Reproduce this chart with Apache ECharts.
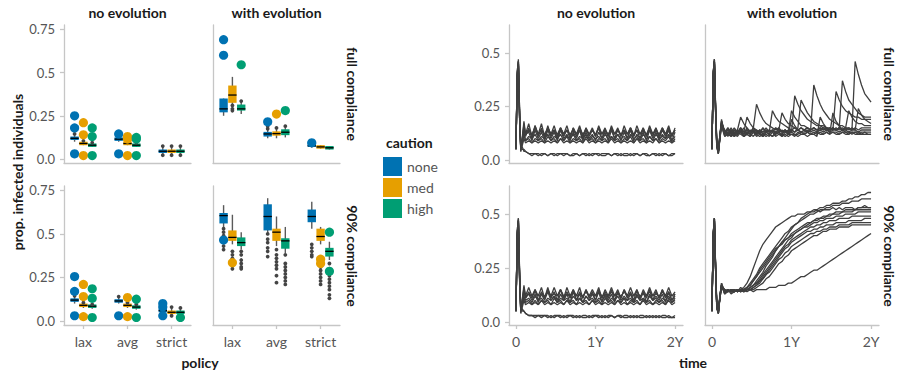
<!DOCTYPE html>
<html>
<head>
<meta charset="utf-8">
<script src="https://cdn.jsdelivr.net/npm/echarts@6/dist/echarts.min.js"></script>
<style>
  html, body { margin: 0; padding: 0; background: #fff; }
  #chart { width: 902px; height: 374px; }
</style>
</head>
<body>
<div id="chart"></div>
<script>
const FONT = 'Lato';
const POLICIES = ['lax', 'avg', 'strict'];
const CAUTION = ['none', 'med', 'high'];
const COLORS = ['#0072B2', '#E69F00', '#009E73'];

/* ── left facets: box stats [min, q1, median, q3, max] per caution → per policy ── */
const BOX_NOEVO_FULL = [
  [[0.10, 0.11, 0.12, 0.125, 0.14], [0.10, 0.108, 0.115, 0.12, 0.14], [0.03, 0.04, 0.045, 0.05, 0.07]],
  [[0.08, 0.085, 0.09, 0.095, 0.11], [0.08, 0.085, 0.09, 0.097, 0.11], [0.03, 0.04, 0.045, 0.05, 0.07]],
  [[0.07, 0.075, 0.08, 0.09, 0.10], [0.07, 0.075, 0.08, 0.085, 0.10], [0.03, 0.04, 0.045, 0.05, 0.07]]
];
const BOX_EVO_FULL = [
  [[0.25, 0.27, 0.29, 0.35, 0.35], [0.12, 0.13, 0.145, 0.157, 0.185], [0.065, 0.07, 0.077, 0.10, 0.10]],
  [[0.27, 0.325, 0.37, 0.425, 0.475], [0.12, 0.135, 0.147, 0.16, 0.175], [0.06, 0.065, 0.07, 0.075, 0.08]],
  [[0.26, 0.28, 0.29, 0.315, 0.33], [0.125, 0.138, 0.155, 0.172, 0.18], [0.055, 0.06, 0.065, 0.07, 0.075]]
];
const BOX_NOEVO_90 = [
  [[0.10, 0.11, 0.12, 0.13, 0.145], [0.10, 0.11, 0.115, 0.12, 0.135], [0.04, 0.05, 0.06, 0.065, 0.08]],
  [[0.075, 0.085, 0.09, 0.095, 0.11], [0.075, 0.085, 0.09, 0.095, 0.11], [0.03, 0.045, 0.05, 0.055, 0.08]],
  [[0.07, 0.075, 0.085, 0.09, 0.10], [0.065, 0.075, 0.08, 0.085, 0.10], [0.03, 0.04, 0.05, 0.055, 0.075]]
];
const BOX_EVO_90 = [
  [[0.52, 0.56, 0.605, 0.62, 0.665], [0.50, 0.52, 0.60, 0.67, 0.705], [0.53, 0.567, 0.60, 0.64, 0.685]],
  [[0.44, 0.46, 0.48, 0.52, 0.61], [0.43, 0.46, 0.51, 0.53, 0.60], [0.44, 0.46, 0.485, 0.53, 0.54]],
  [[0.41, 0.43, 0.45, 0.48, 0.51], [0.39, 0.415, 0.46, 0.475, 0.54], [0.35, 0.37, 0.40, 0.42, 0.455]]
];

// small grey outliers
const OUT_NOEVO_FULL = [
  [[0.145], [0.135], [0.075, 0.022]],
  [[0.105], [0.105], [0.075, 0.022]],
  [[0.095], [0.095], [0.075, 0.022]]
];
const OUT_EVO_FULL = [
  [[], [0.19, 0.175], []],
  [[0.31, 0.29, 0.28], [0.18], []],
  [[0.335], [0.19], []]
];
const OUT_NOEVO_90 = [
  [[0.145], [0.14], []],
  [[0.105], [0.105], [0.08, 0.03]],
  [[0.095], [0.095], [0.075, 0.03]]
];
const OUT_EVO_90 = [
  [[0.53, 0.51, 0.49, 0.45, 0.43, 0.41], [0.50, 0.47, 0.45, 0.42, 0.40, 0.37], [0.44, 0.42, 0.40, 0.38, 0.37]],
  [[0.40, 0.38, 0.36, 0.32, 0.30], [0.41, 0.38, 0.36, 0.34, 0.32, 0.30, 0.26, 0.22], [0.31, 0.29, 0.27, 0.25, 0.23, 0.21]],
  [[0.40, 0.38, 0.35, 0.33, 0.31, 0.30], [0.38, 0.33, 0.31, 0.29, 0.27, 0.25, 0.23, 0.21], [0.33, 0.30, 0.26, 0.24, 0.22, 0.20, 0.18, 0.15, 0.13]]
];

// big coloured points
const DOTS_NOEVO_FULL = [
  [[0.25, 0.18, 0.03], [0.145, 0.03], []],
  [[0.21, 0.14, 0.02], [0.13, 0.115, 0.02], []],
  [[0.18, 0.13, 0.02], [0.125, 0.115, 0.02], []]
];
const DOTS_EVO_FULL = [
  [[0.69, 0.60], [0.215], [0.094]],
  [[], [0.26], []],
  [[0.545], [0.28], []]
];
const DOTS_NOEVO_90 = [
  [[0.255, 0.17, 0.03], [0.03], [0.10, 0.08, 0.03]],
  [[0.21, 0.14, 0.025], [0.135, 0.025], []],
  [[0.185, 0.13, 0.02], [0.125, 0.02], [0.02]]
];
const DOTS_EVO_90 = [
  [[0.465], [], []],
  [[0.335], [], [0.355, 0.33]],
  [[], [], [0.51, 0.285]]
];

/* ── right facets: time (years) and trajectories in % infected ── */
const T = [0, 0.015, 0.03, 0.045, 0.06, 0.08, 0.1, 0.12,
  0.16, 0.2, 0.24, 0.28, 0.32, 0.36, 0.4, 0.44, 0.48, 0.52, 0.56, 0.6,
  0.64, 0.68, 0.72, 0.76, 0.8, 0.84, 0.88, 0.92, 0.96, 1.0, 1.04, 1.08,
  1.12, 1.16, 1.2, 1.24, 1.28, 1.32, 1.36, 1.4, 1.44, 1.48, 1.52, 1.56,
  1.6, 1.64, 1.68, 1.72, 1.76, 1.8, 1.84, 1.88, 1.92, 1.96, 2.0];

const LINES_NOEVO_FULL = [
  [5,41,46,20,4,10,17,11,15,10,16, 11,15,10,16,11,14,10,15,11,14,10, 15,11,14,10,15,11,14,11,15,10,14, 11,15,10,14,11,14,10,15,11,14,10, 15,11,14,11,15,10,14,11,15,11,14],
  [5,39,45,24,5,8,14,12,13,9,14, 10,13,9,14,10,13,9,14,10,12,9, 13,10,14,9,13,10,12,9,13,10,13, 9,14,10,12,9,13,10,14,9,12,10, 13,9,14,10,13,9,12,10,14,9,13],
  [6,38,46,21,5,9,13,9,11,10,12, 9,11,10,12,9,11,10,12,9,11,10, 12,9,11,10,12,9,11,10,11,9,12, 10,11,9,12,10,11,9,12,10,11,9, 12,10,11,9,12,10,11,10,12,9,11],
  [5,40,45,22,6,8,12,9,10,8,10, 9,10,8,11,9,10,8,10,9,11,8, 10,9,10,8,11,9,10,8,10,9,10, 8,11,9,10,8,10,9,11,8,10,9, 10,8,11,9,10,8,10,9,11,8,10],
  [5,41,47,23,4,11,18,12,17,11,16, 12,17,11,15,12,16,11,15,12,16,11, 15,12,16,11,15,12,15,11,16,12,15, 11,16,12,15,11,16,12,15,11,16,12, 15,11,16,12,15,11,15,12,16,11,15],
  [6,38,44,20,5,7,10,8,9,8,9, 8,9,8,9,8,9,8,10,8,9,8, 9,8,9,8,10,8,9,8,9,8,9, 8,10,8,9,8,9,8,9,8,10,8, 9,8,9,8,10,8,9,8,9,8,9],
  [5,40,46,21,5,10,16,12,14,12,15, 12,14,12,15,12,14,12,15,12,14,12, 14,12,15,12,14,12,14,12,15,12,14, 12,15,12,14,12,14,12,15,12,14,12, 14,12,15,12,14,12,15,12,14,12,14],
  [5,38,45,20,6,5,5,4,3,3,3, 2,3,3,2,3,3,2,3,3,3,2, 3,3,2,3,3,2,3,3,2,3,3, 3,2,3,3,2,3,3,2,3,3,2, 3,3,2,3,3,2,3,3,2,3,3],
  [6,37,44,19,7,6,4,4,3,2,3, 3,2,3,2,3,2,3,3,2,3,2, 2,3,2,3,2,3,2,3,3,2,2, 3,2,3,2,3,2,2,3,2,3,2, 3,2,2,3,2,3,2,3,2,2,3]
];

const LINES_EVO_FULL = [
  [5,40,47,24,7,3,11,18,13,15,12, 14,12,15,13,14,12,15,26,22,19,17, 16,15,14,15,13,14,13,14,13,14,13, 14,13,14,35,30,26,23,21,19,18,17, 16,16,15,15,14,46,40,35,31,29,27],
  [6,39,46,26,9,4,10,17,14,12,15, 12,14,13,15,12,14,13,14,12,15,13, 14,13,15,13,14,13,14,13,30,26,23, 21,19,18,17,16,16,15,15,14,15,14, 15,37,32,28,26,24,22,21,20,20,20],
  [5,41,47,23,6,3,12,19,12,14,13, 15,13,14,12,15,13,14,12,14,13,15, 13,14,12,15,13,14,12,14,13,15,28, 25,22,20,18,17,16,16,15,15,14,32, 28,25,23,22,21,20,20,19,19,19,19],
  [5,40,46,25,8,4,11,17,13,14,12, 14,13,15,12,14,13,15,13,14,12,14, 13,23,20,18,17,16,15,14,15,14,15, 14,15,14,15,14,15,14,15,14,15,14, 15,14,15,14,15,14,24,21,19,18,17],
  [6,38,45,24,7,4,12,18,12,15,13, 14,12,15,13,20,17,15,14,13,15,13, 14,13,15,14,13,14,13,23,20,18,16, 16,15,14,15,14,15,14,15,14,15,14, 15,14,15,23,20,18,17,17,16,16,16],
  [5,40,47,23,7,3,11,18,13,12,14, 12,14,20,17,15,13,14,12,14,13,14, 13,14,13,14,22,19,17,16,15,14,15, 14,15,14,15,14,14,15,14,15,14,15, 14,15,14,15,14,15,14,15,15,15,15],
  [5,41,46,24,8,4,12,17,12,13,11, 13,12,14,11,13,12,14,12,13,11,13, 12,14,12,13,12,14,12,19,16,14,13, 13,14,13,14,13,14,13,14,13,14,14, 13,14,14,13,14,14,13,14,14,14,14],
  [6,39,46,22,6,3,10,16,11,12,11, 12,11,13,11,12,11,13,11,12,11,12, 11,13,11,12,12,11,12,13,12,12,13, 12,13,12,13,12,13,12,13,12,13,13, 12,13,13,12,13,13,12,13,13,13,13],
  [5,40,46,25,9,4,10,17,13,11,13, 11,13,12,11,13,12,11,13,12,11,13, 12,11,13,12,11,13,12,12,11,13,12, 12,13,12,12,13,12,12,13,12,22,18, 16,14,13,13,12,13,13,12,13,12,12],
  [6,38,45,23,7,4,12,16,11,13,12, 11,12,13,11,12,11,13,12,11,12,11, 12,11,12,13,11,12,11,12,12,11,12, 12,11,12,12,11,20,17,15,13,13,12, 12,13,12,12,13,12,12,12,12,12,12]
];

const LINES_NOEVO_90 = [
  [5,42,48,22,4,10,16,11,14,11,15, 10,14,11,16,11,14,10,15,11,14,11, 15,10,14,11,15,11,14,10,15,11,14, 11,15,10,14,11,15,11,14,10,15,11, 14,11,15,10,14,11,15,11,14,10,13],
  [5,40,47,24,5,9,14,11,13,10,13, 9,13,10,14,10,12,9,13,10,13,9, 14,10,13,9,12,10,13,10,14,9,13, 10,13,9,14,10,12,10,13,9,13,10, 14,9,13,10,12,10,13,9,14,10,12],
  [6,39,47,21,5,9,12,10,11,9,12, 10,11,9,11,10,12,9,11,10,11,9, 12,10,11,9,12,10,11,9,11,10,12, 9,11,10,12,9,11,10,11,9,12,10, 11,9,12,10,11,9,11,10,12,9,11],
  [5,41,46,22,6,8,11,9,10,8,10, 8,10,9,10,8,11,9,10,8,10,9, 10,8,11,9,10,8,10,9,10,8,11, 9,10,8,10,9,11,8,10,9,10,8, 11,9,10,8,10,9,10,8,11,9,10],
  [5,42,48,23,4,11,17,12,16,12,15, 12,16,11,15,12,16,12,15,11,16,12, 15,12,16,11,15,12,15,12,16,11,15, 12,16,12,15,11,15,12,16,12,15,11, 15,12,16,12,15,11,15,12,16,12,14],
  [6,39,45,20,5,7,10,8,9,8,9, 8,10,8,9,8,9,8,9,8,10,8, 9,8,9,8,9,8,10,8,9,8,9, 8,9,8,10,8,9,8,9,8,9,8, 10,8,9,8,9,8,9,8,10,8,9],
  [5,41,47,21,5,10,15,12,13,12,14, 12,13,12,14,12,13,12,15,12,13,12, 14,12,13,12,14,12,13,12,14,12,13, 12,14,12,13,12,14,12,13,12,14,12, 13,12,14,12,13,12,14,12,13,12,13],
  [5,40,47,20,8,5,5,4,3,3,3, 3,2,3,3,2,3,3,3,2,3,3, 2,3,2,3,3,2,3,3,2,3,2, 3,3,2,3,2,3,3,2,3,2,3, 3,2,3,2,3,2,3,3,2,2,3],
  [6,38,46,19,7,6,5,4,3,3,2, 3,3,3,2,3,2,3,2,3,2,3, 3,2,3,2,2,3,2,3,3,2,3, 2,3,2,3,3,2,2,3,2,3,2, 2,3,2,3,2,3,2,2,3,2,2]
];

const LINES_EVO_90 = [
  [5,41,48,25,7,4,13,17,14,15,14, 15,14,15,16,18,21,25,29,33,36,38, 40,42,44,45,46,47,48,49,49,50,50, 50,51,51,51,52,51,52,52,52,53,52, 53,52,53,53,53,52,53,53,54,53,53],
  [6,39,47,27,9,5,11,16,15,14,15, 14,15,14,15,15,16,17,19,21,23,26, 28,30,33,35,37,39,41,43,45,46,48, 49,50,51,52,52,53,53,54,54,55,55, 55,56,56,57,57,58,58,59,59,60,60],
  [5,40,48,24,6,4,12,18,13,15,14, 15,14,16,15,16,18,20,22,25,27,29, 31,33,35,37,39,41,42,44,45,46,47, 48,49,50,50,51,52,52,53,53,54,54, 54,55,55,55,56,56,56,57,57,57,57],
  [6,40,47,26,8,5,11,16,14,15,13, 14,15,14,15,16,17,19,21,23,25,27, 29,31,33,35,36,38,39,41,42,43,44, 45,46,46,47,48,48,49,49,50,50,51, 51,51,52,52,52,52,53,53,53,53,53],
  [5,41,48,25,7,4,12,17,15,14,15, 14,15,15,14,15,16,17,18,20,22,24, 26,28,30,32,34,36,38,39,41,42,43, 44,45,46,47,47,48,48,49,49,50,50, 50,51,51,51,51,52,52,52,52,52,52],
  [6,39,47,24,8,5,12,18,14,15,14, 15,14,15,15,16,17,19,21,24,26,28, 30,32,34,35,37,38,39,40,41,42,43, 44,44,45,46,46,47,47,48,48,48,49, 49,49,50,50,50,50,51,51,51,51,51],
  [5,40,48,26,7,4,11,17,13,15,14, 14,15,14,15,15,16,17,18,19,21,23, 25,27,29,31,33,35,36,38,39,40,41, 42,43,44,44,45,45,46,46,47,47,47, 48,48,48,48,49,49,49,49,49,49,49],
  [6,41,47,25,8,5,12,16,15,14,15, 15,14,15,14,15,15,16,17,18,20,22, 24,26,28,30,32,34,35,37,38,39,40, 41,42,42,43,43,44,44,45,45,45,46, 46,46,46,47,47,47,47,47,48,48,48],
  [5,39,48,24,7,4,12,17,14,15,14, 14,15,15,14,15,15,16,17,19,20,22, 23,25,27,29,30,32,33,35,36,37,38, 39,40,41,41,42,42,43,43,44,44,44, 45,45,45,45,46,46,46,46,46,46,46],
  [6,40,47,26,8,5,11,17,13,14,15, 14,15,14,15,14,15,15,16,17,18,20, 21,23,25,27,28,30,31,33,34,35,36, 37,38,39,40,40,41,42,42,43,43,43, 44,44,44,44,45,45,45,45,45,45,45],
  [5,40,48,25,7,4,12,17,14,15,14, 15,14,15,14,15,15,14,15,15,15,15, 16,16,16,17,17,17,18,18,19,20,21, 21,22,23,24,24,25,26,27,28,29,30, 31,32,33,34,35,36,37,38,39,40,41]
];

/* ── layout ── */
const AXIS_COLOR = '#c6c6c6';
const LABEL_COLOR = '#555';
const DODGE = [-0.2, 0, 0.2];
const BOX_W = 0.19;
const MIN_BOX_H = 3.5;

const grids = [
  { left: 64, top: 25, width: 127, height: 138 },
  { left: 213, top: 25, width: 127, height: 138 },
  { left: 64, top: 186, width: 127, height: 139 },
  { left: 213, top: 186, width: 127, height: 139 },
  { left: 509, top: 25, width: 174, height: 138 },
  { left: 705, top: 25, width: 174, height: 138 },
  { left: 509, top: 186, width: 174, height: 139 },
  { left: 705, top: 186, width: 174, height: 139 }
];

function xAxisFor(gi) {
  const isBox = gi < 4;
  const bottom = gi === 2 || gi === 3 || gi === 6 || gi === 7;
  const vals = [0, 1, 2];
  return {
    type: 'value', gridIndex: gi,
    min: isBox ? -0.44 : -0.088, max: isBox ? 2.44 : 2.1,
    axisLine: { show: true, onZero: false, lineStyle: { color: AXIS_COLOR, width: 1.3 } },
    axisTick: { show: bottom, length: 4, customValues: vals, lineStyle: { color: AXIS_COLOR, width: 1.3 } },
    axisLabel: {
      show: bottom, customValues: vals, margin: 9,
      color: LABEL_COLOR, fontSize: 14, fontFamily: FONT,
      formatter: (v) => isBox ? POLICIES[v] : (v === 0 ? '0' : v + 'Y')
    },
    splitLine: { show: false }
  };
}

function yAxisFor(gi) {
  const isBox = gi < 4;
  const leftCol = gi === 0 || gi === 2 || gi === 4 || gi === 6;
  const vals = isBox ? [0, 0.25, 0.5, 0.75] : [0, 0.25, 0.5];
  return {
    type: 'value', gridIndex: gi,
    min: isBox ? -0.023 : -0.014, max: isBox ? 0.775 : 0.63,
    axisLine: { show: true, onZero: false, lineStyle: { color: AXIS_COLOR, width: 1.3 } },
    axisTick: { show: leftCol, length: 4, customValues: vals, lineStyle: { color: AXIS_COLOR, width: 1.3 } },
    axisLabel: {
      show: leftCol, customValues: vals, margin: 9,
      color: LABEL_COLOR, fontSize: 13, fontFamily: FONT,
      formatter: (v) => (v === 0 ? '0.0' : String(v))
    },
    splitLine: { show: false }
  };
}

function boxRender(k) {
  return function (params, api) {
    const x = api.value(0) + DODGE[k];
    const lo = api.coord([x, api.value(1)]);
    const q1 = api.coord([x, api.value(2)]);
    const md = api.coord([x, api.value(3)]);
    const q3 = api.coord([x, api.value(4)]);
    const hi = api.coord([x, api.value(5)]);
    const w = api.size([BOX_W, 0])[0];
    const thin = q1[1] - q3[1] < MIN_BOX_H;
    const h = thin ? MIN_BOX_H : q1[1] - q3[1];
    const top = thin ? md[1] - MIN_BOX_H / 2 : q3[1];
    return {
      type: 'group',
      children: [
        { type: 'line', shape: { x1: lo[0], y1: lo[1], x2: hi[0], y2: hi[1] }, style: { stroke: '#5a5a5a', lineWidth: 1.4 } },
        { type: 'rect', shape: { x: md[0] - w / 2, y: top, width: w, height: h }, style: { fill: COLORS[k] } },
        { type: 'line', shape: { x1: md[0] - w / 2, y1: md[1], x2: md[0] + w / 2, y2: md[1] }, style: { stroke: '#000', lineWidth: 1.3 } }
      ]
    };
  };
}

function dotRender(k, r, color) {
  return function (params, api) {
    const p = api.coord([api.value(0) + DODGE[k], api.value(1)]);
    return { type: 'circle', shape: { cx: p[0], cy: p[1], r: r }, style: { fill: color || COLORS[k] } };
  };
}

const series = [];
const boxPanels = [
  { gi: 0, box: BOX_NOEVO_FULL, out: OUT_NOEVO_FULL, dots: DOTS_NOEVO_FULL },
  { gi: 1, box: BOX_EVO_FULL, out: OUT_EVO_FULL, dots: DOTS_EVO_FULL },
  { gi: 2, box: BOX_NOEVO_90, out: OUT_NOEVO_90, dots: DOTS_NOEVO_90 },
  { gi: 3, box: BOX_EVO_90, out: OUT_EVO_90, dots: DOTS_EVO_90 }
];

boxPanels.forEach((p) => {
  CAUTION.forEach((name, k) => {
    series.push({
      type: 'custom', name: name, xAxisIndex: p.gi, yAxisIndex: p.gi,
      itemStyle: { color: COLORS[k] }, z: 2, silent: true,
      renderItem: boxRender(k),
      encode: { x: 0, y: [1, 2, 3, 4, 5] },
      data: p.box[k].map((s, i) => [i].concat(s))
    });
    const outs = [];
    p.out[k].forEach((vals, i) => vals.forEach((v) => outs.push([i, v])));
    series.push({
      type: 'custom', xAxisIndex: p.gi, yAxisIndex: p.gi, z: 3, silent: true,
      renderItem: dotRender(k, 1.9, '#444'),
      encode: { x: 0, y: 1 }, data: outs
    });
    const dots = [];
    p.dots[k].forEach((vals, i) => vals.forEach((v) => dots.push([i, v])));
    series.push({
      type: 'custom', name: name, xAxisIndex: p.gi, yAxisIndex: p.gi, z: 4, silent: true,
      itemStyle: { color: COLORS[k] },
      renderItem: dotRender(k, 4.6),
      encode: { x: 0, y: 1 }, data: dots
    });
  });
});

const linePanels = [
  { gi: 4, lines: LINES_NOEVO_FULL },
  { gi: 5, lines: LINES_EVO_FULL },
  { gi: 6, lines: LINES_NOEVO_90 },
  { gi: 7, lines: LINES_EVO_90 }
];
linePanels.forEach((p) => {
  p.lines.forEach((vals) => {
    series.push({
      type: 'line', xAxisIndex: p.gi, yAxisIndex: p.gi,
      showSymbol: false, silent: true,
      lineStyle: { color: '#3f3f3f', width: 1.3 },
      data: T.map((t, i) => [t, vals[i] / 100])
    });
  });
});

function label(text, x, y, opts) {
  opts = opts || {};
  return {
    type: 'text', x: x, y: y, rotation: opts.rotation || 0, silent: true,
    style: {
      text: text, fill: '#1a1a1a', fontSize: 14, fontWeight: 'bold', fontFamily: FONT,
      align: opts.align || 'center', verticalAlign: 'middle'
    }
  };
}

const chart = echarts.init(document.getElementById('chart'), null, { renderer: 'svg' });
chart.setOption({
  animation: false,
  backgroundColor: '#fff',
  grid: grids,
  xAxis: grids.map((g, i) => xAxisFor(i)),
  yAxis: grids.map((g, i) => yAxisFor(i)),
  legend: {
    data: CAUTION, orient: 'vertical', left: 383, top: 157, padding: 0,
    itemWidth: 19, itemHeight: 19, itemGap: 2, icon: 'rect', selectedMode: false,
    textStyle: { fontSize: 14, color: LABEL_COLOR, fontFamily: FONT }
  },
  graphic: [
    label('no evolution', 127.5, 12),
    label('with evolution', 276.5, 12),
    label('no evolution', 596, 12),
    label('with evolution', 792, 12),
    label('full compliance', 352, 94, { rotation: -Math.PI / 2 }),
    label('90% compliance', 352, 256, { rotation: -Math.PI / 2 }),
    label('full compliance', 889, 94, { rotation: -Math.PI / 2 }),
    label('90% compliance', 889, 256, { rotation: -Math.PI / 2 }),
    label('prop. infected individuals', 17, 172, { rotation: Math.PI / 2 }),
    label('policy', 200, 362),
    label('time', 693, 362),
    label('caution', 386, 142, { align: 'left' })
  ],
  series: series
});
</script>
</body>
</html>
